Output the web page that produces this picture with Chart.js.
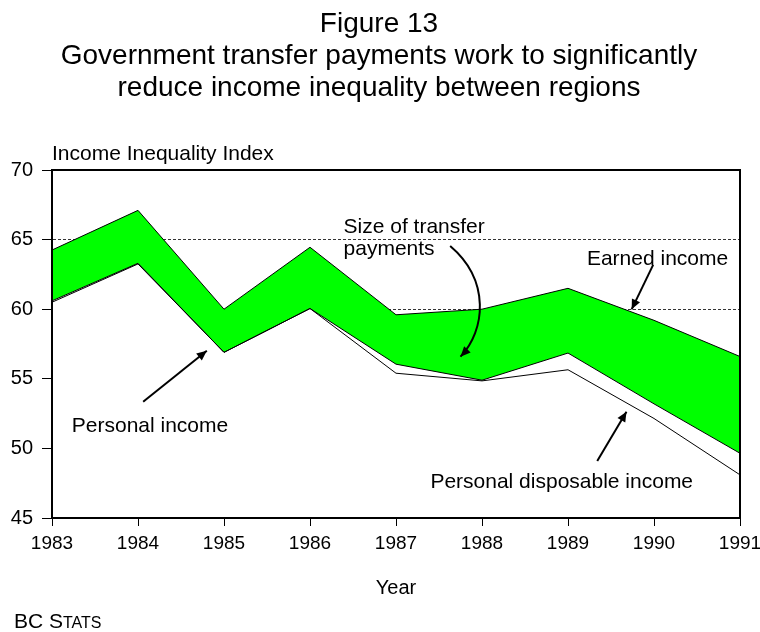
<!DOCTYPE html>
<html>
<head>
<meta charset="utf-8">
<script src="https://cdn.jsdelivr.net/npm/chart.js@4.4.0/dist/chart.umd.min.js"></script>
<style>
  html, body { margin: 0; padding: 0; background: #fff; }
  canvas { display: block; }
</style>
</head>
<body>
<canvas id="chart" width="760" height="632"></canvas>
<script>
// values (income inequality index)
const years = [1983, 1984, 1985, 1986, 1987, 1988, 1989, 1990, 1991];
const earnedIncome = [64.25, 67.1, 60.0, 64.45, 59.6, 60.0, 61.5, 59.2, 56.6];
const personalIncome = [60.6, 63.3, 56.9, 60.05, 56.05, 54.9, 56.85, 53.2, 49.65];
const disposableIncome = [60.5, 63.25, 56.9, 60.05, 55.4, 54.85, 55.65, 52.15, 48.1];
const yMin = 45, yMax = 70, yStep = 5;

const titleLines = [
  'Figure 13',
  'Government transfer payments work to significantly',
  'reduce income inequality between regions'
];

// annotation labels, placed in data units (year, index value)
const notes = [
  { text: 'Size of transfer', x: 1986.39, y: 65.5 },
  { text: 'payments', x: 1986.39, y: 63.89 },
  { text: 'Earned income', x: 1989.22, y: 63.18 },
  { text: 'Personal income', x: 1983.23, y: 51.2 },
  { text: 'Personal disposable income', x: 1987.4, y: 47.13 }
];
const arrows = [
  { from: [1984.06, 53.35], to: [1984.80, 57.02] },
  { from: [1989.99, 63.18], to: [1989.74, 59.99] },
  { from: [1989.34, 49.09], to: [1989.68, 52.64] },
  { from: [1987.63, 64.54], c1: [1988.10, 62.07], c2: [1988.04, 58.48], to: [1987.75, 56.59] }
];

const FONT = '"Liberation Sans", Arial, Helvetica, sans-serif';
const points = (vals) => years.map((yr, i) => ({ x: yr, y: vals[i] }));

function arrowHead(ctx, x0, y0, x1, y1) {
  const a = Math.atan2(y1 - y0, x1 - x0);
  const len = 10, w = 4.5;
  ctx.beginPath();
  ctx.moveTo(x1, y1);
  ctx.lineTo(x1 - len * Math.cos(a) + w * Math.sin(a), y1 - len * Math.sin(a) - w * Math.cos(a));
  ctx.lineTo(x1 - len * Math.cos(a) - w * Math.sin(a), y1 - len * Math.sin(a) + w * Math.cos(a));
  ctx.closePath();
  ctx.fill();
}

const decorations = {
  id: 'decorations',
  afterDatasetsDraw(chart) {
    const { ctx, chartArea: a, scales: { x, y } } = chart;
    ctx.save();
    // frame round the plot
    ctx.strokeStyle = '#000';
    ctx.lineWidth = 2;
    ctx.strokeRect(a.left, a.top, a.right - a.left, a.bottom - a.top);

    ctx.fillStyle = '#000';
    ctx.font = '21px ' + FONT;
    ctx.textAlign = 'left';
    ctx.textBaseline = 'alphabetic';
    notes.forEach(n => ctx.fillText(n.text, x.getPixelForValue(n.x), y.getPixelForValue(n.y)));

    ctx.lineWidth = 2;
    arrows.forEach(ar => {
      const p = (pt) => [x.getPixelForValue(pt[0]), y.getPixelForValue(pt[1])];
      const f = p(ar.from), t = p(ar.to);
      ctx.beginPath();
      ctx.moveTo(f[0], f[1]);
      if (ar.c1) {
        const c1 = p(ar.c1), c2 = p(ar.c2);
        ctx.bezierCurveTo(c1[0], c1[1], c2[0], c2[1], t[0], t[1]);
        ctx.stroke();
        arrowHead(ctx, c2[0], c2[1], t[0], t[1]);
      } else {
        ctx.lineTo(t[0], t[1]);
        ctx.stroke();
        arrowHead(ctx, f[0], f[1], t[0], t[1]);
      }
    });
    ctx.restore();
  },
  afterDraw(chart) {
    const { ctx, chartArea: a } = chart;
    ctx.save();
    ctx.fillStyle = '#000';
    ctx.textAlign = 'center';
    ctx.textBaseline = 'alphabetic';
    ctx.font = '28px ' + FONT;
    titleLines.forEach((line, i) => ctx.fillText(line, 379, 32 + i * 32));

    ctx.font = '20px ' + FONT;
    ctx.textBaseline = 'middle';
    ctx.fillText('Year', (a.left + a.right) / 2, 588);
    ctx.textAlign = 'left';
    ctx.textBaseline = 'alphabetic';
    ctx.font = '21px ' + FONT;
    ctx.fillText('Income Inequality Index', a.left, 160);

    // source line in small caps
    ctx.fillText('BC S', 14, 628);
    const w = ctx.measureText('BC S').width;
    ctx.font = '16px ' + FONT;
    ctx.fillText('TATS', 14 + w, 628);
    ctx.restore();
  }
};

new Chart(document.getElementById('chart'), {
  type: 'line',
  data: {
    datasets: [
      {
        label: 'Earned income',
        data: points(earnedIncome),
        borderColor: '#000',
        borderWidth: 1,
        backgroundColor: '#00ff00',
        fill: '+1',
        pointRadius: 0,
        tension: 0
      },
      {
        label: 'Personal income',
        data: points(personalIncome),
        borderColor: '#000',
        borderWidth: 1,
        backgroundColor: '#ffffff',
        fill: 'start',
        pointRadius: 0,
        tension: 0
      },
      {
        label: 'Personal disposable income',
        data: points(disposableIncome),
        borderColor: '#000',
        borderWidth: 1,
        fill: false,
        pointRadius: 0,
        tension: 0
      }
    ]
  },
  options: {
    responsive: false,
    animation: false,
    layout: { padding: { top: 170, right: 20, bottom: 0, left: 0 } },
    plugins: {
      legend: { display: false },
      tooltip: { enabled: false },
      filler: { drawTime: 'beforeDatasetsDraw' }
    },
    scales: {
      x: {
        type: 'linear',
        min: years[0],
        max: years[years.length - 1],
        afterFit: (s) => { s.height = 114; s.paddingLeft = 0; s.paddingRight = 0; },
        ticks: {
          stepSize: 1,
          autoSkip: false,
          maxRotation: 0,
          padding: 6,
          color: '#000',
          font: { family: FONT, size: 19 },
          callback: (v) => String(v)
        },
        grid: { drawOnChartArea: false, drawTicks: true, tickLength: 8, color: '#000' },
        border: { color: '#000', width: 2 }
      },
      y: {
        min: yMin,
        max: yMax,
        afterFit: (s) => { s.width = 52; },
        ticks: {
          stepSize: yStep,
          padding: 9,
          color: '#000',
          font: { family: FONT, size: 20 }
        },
        grid: { color: '#333', lineWidth: 1, tickLength: 10, tickColor: '#000', tickBorderDash: [] },
        border: { color: '#000', width: 2, dash: [3, 2] }
      }
    }
  },
  plugins: [decorations]
});
</script>
</body>
</html>
